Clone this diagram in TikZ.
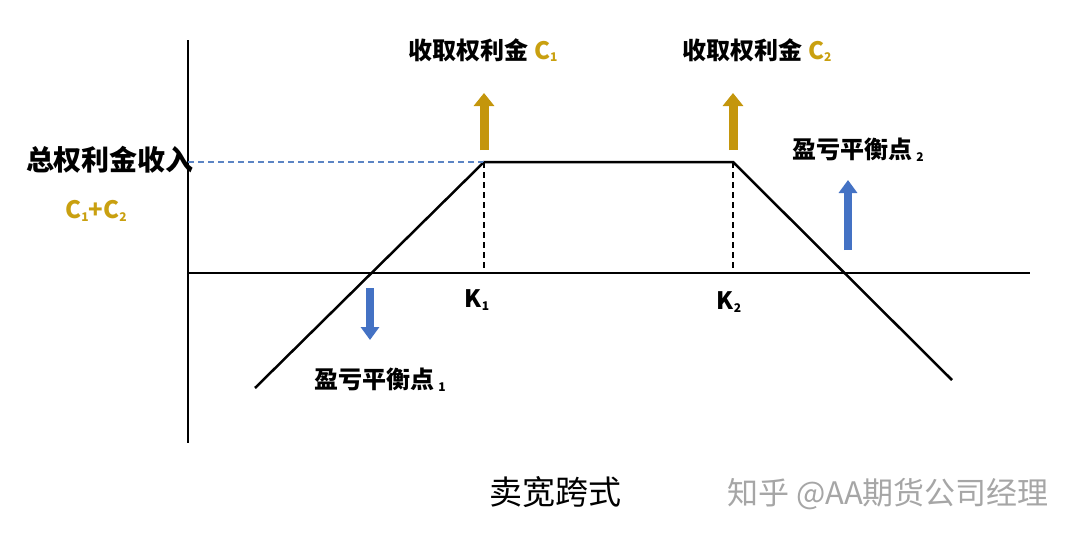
\documentclass[tikz,border=0pt]{standalone}
\usepackage{fontspec}
\setmainfont{Noto Sans CJK SC}
\usetikzlibrary{arrows.meta}
\definecolor{gold}{HTML}{C9A010}
\definecolor{arrgold}{HTML}{C4960C}
\definecolor{arrblue}{HTML}{4472C4}
\definecolor{dashblue}{HTML}{5B84C4}
\newcommand{\sbs}[1]{\raisebox{-0.2ex}{\fontsize{12}{12}\selectfont #1}}
\begin{document}
\begin{tikzpicture}[x=1pt,y=-1pt,
 lab/.style={font=\fontsize{24}{24}\selectfont\bfseries},
 axis/.style={line width=2.2pt},
 pay/.style={line width=2.5pt},
 gup/.style={line width=9pt,arrgold,-{Triangle[length=13pt,width=20pt]}},
 bar/.style={line width=8pt,arrblue,-{Triangle[length=13pt,width=18pt]}}]
\useasboundingbox (0,0) rectangle (1080,538);
\coordinate (ytop) at (188,40); \coordinate (ybot) at (188,443);
\coordinate (xr) at (1030,273); \coordinate (o) at (188,273);
\draw[axis] (ytop) -- (ybot);
\draw[axis] (o) -- (xr);
\coordinate (a) at (255,388); \coordinate (k1) at (484,162);
\coordinate (k2) at (733,162); \coordinate (b) at (952,380);
\coordinate (yl) at (188,162);
\coordinate (k1b) at (484,273); \coordinate (k2b) at (733,273);
\draw[pay] (a) -- (k1) -- (k2) -- (b);
\draw[dashblue,dash pattern=on 6pt off 4pt,line width=1.5pt] (yl) -- (k1);
\draw[dash pattern=on 6pt off 4pt,line width=1.5pt] (k1) -- (k1b);
\draw[dash pattern=on 6pt off 4pt,line width=1.5pt] (k2) -- (k2b);
\coordinate (g1s) at (484,150); \coordinate (g1e) at (484,93);
\coordinate (g2s) at (733,150); \coordinate (g2e) at (733,93);
\draw[gup] (g1s) -- (g1e);
\draw[gup] (g2s) -- (g2e);
\coordinate (b1s) at (848,250); \coordinate (b1e) at (848,180);
\coordinate (b2s) at (370,288); \coordinate (b2e) at (370,340);
\draw[bar] (b1s) -- (b1e);
\draw[bar] (b2s) -- (b2e);
\node[lab] (t1) at (483,50) {收取权利金 \textcolor{gold}{C\sbs{1}}};
\node[lab] (t2) at (757,50) {收取权利金 \textcolor{gold}{C\sbs{2}}};
\node[lab,font=\fontsize{28}{28}\selectfont\bfseries] (tot) at (110,160) {总权利金收入};
\node[lab,text=gold] (sum) at (96,211) {C\sbs{1}+C\sbs{2}};
\node[lab] (be2) at (858,150) {盈亏平衡点\,\sbs{2}};
\node[lab] (be1) at (380,380) {盈亏平衡点\,\sbs{1}};
\node[lab] (K1) at (477,300) {K\sbs{1}};
\node[lab] (K2) at (729,302) {K\sbs{2}};
\node[font=\fontsize{33}{33}\selectfont] (title) at (555,492) {卖宽跨式};
\node[font=\fontsize{31}{31}\selectfont,text=gray!70] (wm) at (888,494) {知乎 @AA期货公司经理};
\end{tikzpicture}
\end{document}
